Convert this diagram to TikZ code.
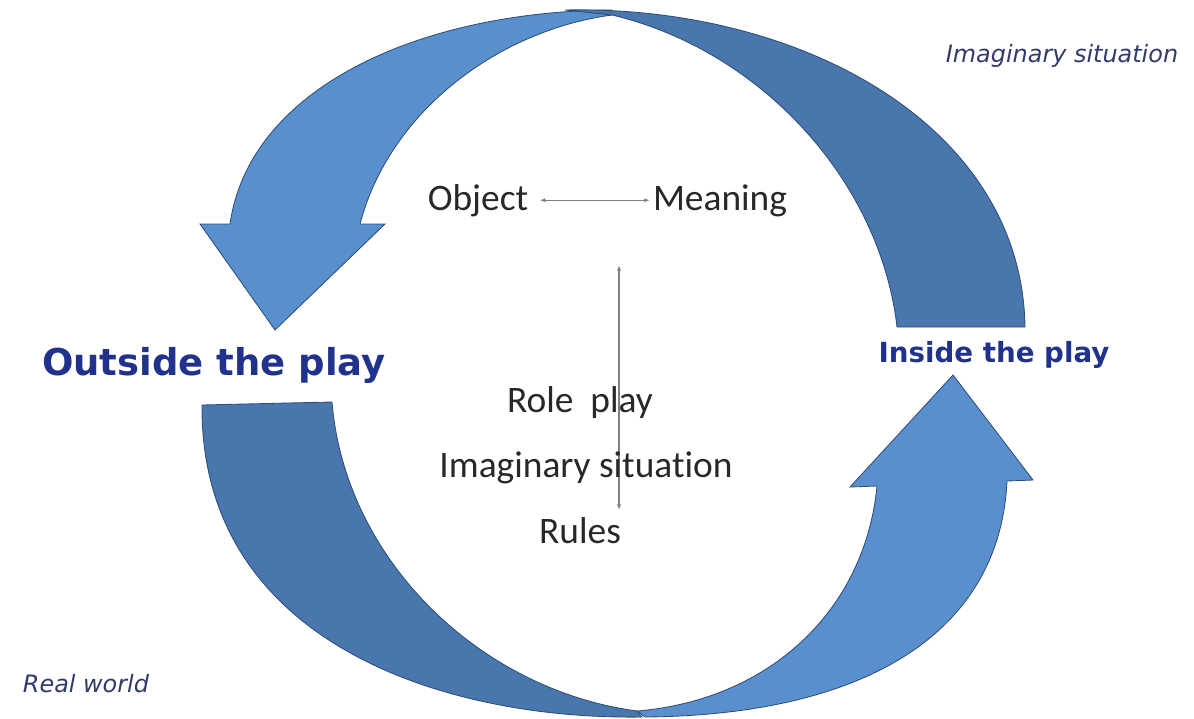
\documentclass[tikz,border=0pt]{standalone}
\usepackage{fontspec}
\setmainfont{Carlito}[Ligatures=NoCommon]
\newfontfamily\verdanaish{DejaVu Sans}
\usetikzlibrary{arrows.meta}
\definecolor{lightarrow}{RGB}{90,143,205}
\definecolor{darkarrow}{RGB}{73,118,172}
\definecolor{arrowedge}{RGB}{45,78,122}
\definecolor{playblue}{RGB}{32,50,140}
\definecolor{worldblue}{RGB}{50,58,105}
\definecolor{bodygray}{RGB}{40,40,40}

\begin{document}
\begin{tikzpicture}[x=0.025cm,y=-0.025cm,
  bigarrow/.style={draw=arrowedge, line width=0.6pt, line join=miter},
  concept/.style={inner sep=2pt, anchor=base, text=bodygray, font=\fontsize{26.6}{30}\selectfont},
  playlabel/.style={inner sep=0pt, anchor=base, text=playblue, font=\verdanaish\bfseries\fontsize{#1}{#1}\selectfont},
  worldlabel/.style={inner sep=0pt, anchor=base, text=worldblue, font=\verdanaish\itshape\fontsize{17}{20}\selectfont},
  link/.style={draw=gray, line width=0.8pt, {Latex[length=4pt,width=3pt]}-{Latex[length=4pt,width=3pt]}}]
%\draw[step=50,gray,very thin] (0,0) grid (1194,718);
\useasboundingbox (0,0) rectangle (1194,718);

% top half: into the play
\draw[bigarrow, fill=lightarrow] (612,10) .. controls (425,11) and (250,85) .. (230,224)
  -- (200,224) -- (275,330) -- (385,224) -- (360,224)
  .. controls (390,110) and (500,30) .. (612,15) -- cycle;
\draw[bigarrow, fill=darkarrow] (565,10) .. controls (800,5) and (1022,125) .. (1025,327)
  -- (897,327) .. controls (880,180) and (760,50) .. (612,15) -- cycle;

% bottom half: back out
\draw[bigarrow, fill=darkarrow] (202,405) -- (332,402)
  .. controls (345,560) and (480,690) .. (637,711) -- (642,717)
  .. controls (440,720) and (200,640) .. (202,405) -- cycle;
\draw[bigarrow, fill=lightarrow] (637,711) .. controls (770,700) and (865,610) .. (877,486)
  -- (850,487) -- (953,375) -- (1033,480) -- (1007,481)
  .. controls (1000,630) and (870,715) .. (645,717) -- cycle;

% centre
\node[concept] (object) at (478,210) {Object};
\node[concept] (meaning) at (720,210) {Meaning};
\draw[link, shorten <=6pt] (object.east) -- (object.east -| meaning.west);

\coordinate (linetop) at (619,265);
\coordinate (linebottom) at (619,510);
\draw[link] (linetop) -- (linebottom);

\node[concept] (roleplay) at (580,412) {Role\ \ play};
\node[concept] (imaginary) at (586,477) {Imaginary situation};
\node[concept] (rules) at (580,543) {Rules};

% sides
\node[playlabel=26.3] (outside) at (214,375) {Outside the play};
\node[playlabel=19.7] (inside) at (994,362) {Inside the play};

\node[worldlabel] (imagsit) at (1062,62) {Imaginary situation};
\node[worldlabel] (realworld) at (86,692) {Real world};

\end{tikzpicture}
\end{document}
